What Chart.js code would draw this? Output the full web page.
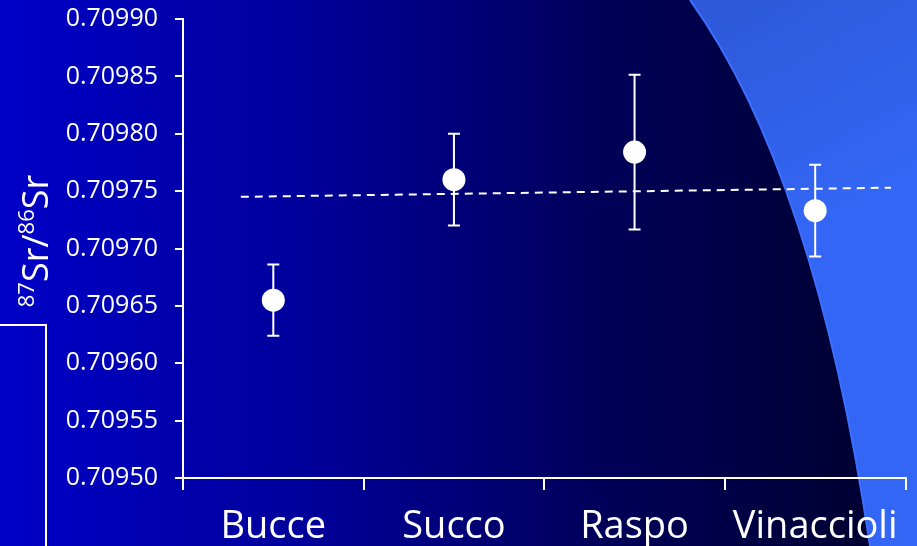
<!DOCTYPE html>
<html>
<head>
<meta charset="utf-8">
<script src="https://cdn.jsdelivr.net/npm/chart.js@4.4.1/dist/chart.umd.min.js"></script>
<style>
  html, body { margin: 0; padding: 0; background: #000080; }
  #wrap { width: 917px; height: 546px; }
</style>
</head>
<body>
<div id="wrap"><canvas id="chart" width="917" height="546"></canvas></div>
<script>
// Sample categories and measured 87Sr/86Sr ratios (mean ± error)
const categories = ['Bucce', 'Succo', 'Raspo', 'Vinaccioli'];
const ratios = [0.709655, 0.709760, 0.709784, 0.709733];
const errors = [0.000031, 0.000040, 0.0000675, 0.000040];

// Dashed reference line (x in category-index units)
const trendX = [-0.18, 3.42];
const trendY = [0.709745, 0.709753];

// Y axis range and step
const yMin = 0.70950;
const yMax = 0.70990;
const yStep = 0.00005;

Chart.defaults.font.family = "'Open Sans', sans-serif";
Chart.defaults.color = '#ffffff';

/** Slide background: blue gradient, light-blue swoosh, left bracket. */
const slideBackground = {
  id: 'slideBackground',
  beforeDraw(chart) {
    const { ctx, width, height } = chart;
    ctx.save();
    const g = ctx.createLinearGradient(0, 0, width, 0);
    g.addColorStop(0, '#0000c8');
    g.addColorStop(0.35, '#000098');
    g.addColorStop(0.65, '#00005a');
    g.addColorStop(0.95, '#000032');
    ctx.fillStyle = g;
    ctx.fillRect(0, 0, width, height);

    // swoosh on the right
    ctx.beginPath();
    ctx.moveTo(690, 0);
    ctx.quadraticCurveTo(815, 175, 870, height);
    ctx.lineTo(width, height);
    ctx.lineTo(width, 0);
    ctx.closePath();
    const g2 = ctx.createLinearGradient(700, 0, 820, 220);
    g2.addColorStop(0, '#2e58d8');
    g2.addColorStop(1, '#3366f4');
    ctx.fillStyle = g2;
    ctx.fill();
    ctx.beginPath();
    ctx.moveTo(690, 0);
    ctx.quadraticCurveTo(815, 175, 870, height);
    ctx.strokeStyle = '#3d70ff';
    ctx.lineWidth = 2;
    ctx.stroke();

    // bracket at the bottom left
    ctx.beginPath();
    ctx.moveTo(0, 325);
    ctx.lineTo(46, 325);
    ctx.lineTo(46, height);
    ctx.strokeStyle = '#ffffff';
    ctx.lineWidth = 2;
    ctx.stroke();
    ctx.restore();
  }
};

/** Vertical error bars with caps, drawn under the points. */
const errorBars = {
  id: 'errorBars',
  beforeDatasetsDraw(chart) {
    const { ctx, scales: { x, y } } = chart;
    ctx.save();
    ctx.strokeStyle = '#ffffff';
    ctx.lineWidth = 2;
    ratios.forEach((v, i) => {
      const px = x.getPixelForValue(i);
      const top = y.getPixelForValue(v + errors[i]);
      const bot = y.getPixelForValue(v - errors[i]);
      ctx.beginPath();
      ctx.moveTo(px, top); ctx.lineTo(px, bot);
      ctx.moveTo(px - 6, top); ctx.lineTo(px + 6, top);
      ctx.moveTo(px - 6, bot); ctx.lineTo(px + 6, bot);
      ctx.stroke();
    });
    ctx.restore();
  }
};

/** Rotated y title with real superscripts. */
const yTitle = {
  id: 'yTitle',
  afterDraw(chart) {
    const ctx = chart.ctx;
    const parts = [['87', true], ['Sr/', false], ['86', true], ['Sr', false]];
    const mainFont = "36px 'Open Sans'";
    const supFont = "22px 'Open Sans'";
    ctx.save();
    ctx.translate(48, 241);
    ctx.rotate(-Math.PI / 2);
    ctx.fillStyle = '#ffffff';
    ctx.textBaseline = 'alphabetic';
    let total = 0;
    for (const [t, sup] of parts) {
      ctx.font = sup ? supFont : mainFont;
      total += ctx.measureText(t).width;
    }
    let xx = -total / 2;
    for (const [t, sup] of parts) {
      ctx.font = sup ? supFont : mainFont;
      ctx.fillText(t, xx, sup ? -14 : 0);
      xx += ctx.measureText(t).width;
    }
    ctx.restore();
  }
};

new Chart(document.getElementById('chart'), {
  type: 'line',
  data: {
    labels: categories,
    datasets: [
      {
        label: '87Sr/86Sr',
        data: ratios,
        showLine: false,
        pointRadius: 11.5,
        pointHoverRadius: 11.5,
        pointBackgroundColor: '#ffffff',
        pointBorderWidth: 0,
        xAxisID: 'x',
        yAxisID: 'y'
      },
      {
        label: 'trend',
        data: trendX.map((vx, i) => ({ x: vx, y: trendY[i] })),
        xAxisID: 'xt',
        yAxisID: 'y',
        borderColor: '#ffffff',
        borderWidth: 2,
        borderDash: [8, 6],
        pointRadius: 0,
        fill: false
      }
    ]
  },
  options: {
    responsive: false,
    animation: false,
    layout: { padding: { top: 19, right: 10, left: 0, bottom: 0 } },
    plugins: { legend: { display: false }, tooltip: { enabled: false } },
    scales: {
      x: {
        type: 'category',
        offset: true,
        grid: { offset: true, drawOnChartArea: false, color: '#ffffff', lineWidth: 2, tickLength: 12 },
        border: { color: '#ffffff', width: 2 },
        ticks: { color: '#ffffff', font: { size: 38 }, padding: 14, maxRotation: 0, autoSkip: false },
        afterFit(s) { s.height = 68; s.paddingLeft = 0; s.paddingRight = 0; }
      },
      xt: { type: 'linear', display: false, min: -0.5, max: 3.5 },
      y: {
        min: yMin,
        max: yMax,
        ticks: { stepSize: yStep, callback: v => v.toFixed(5), font: { size: 25 }, color: '#ffffff', padding: 17 },
        grid: { drawOnChartArea: false, color: '#ffffff', lineWidth: 2, tickLength: 8 },
        border: { color: '#ffffff', width: 2 },
        afterFit(s) { s.width = 183; s.paddingTop = 0; s.paddingBottom = 0; }
      }
    }
  },
  plugins: [slideBackground, errorBars, yTitle]
});
</script>
</body>
</html>
